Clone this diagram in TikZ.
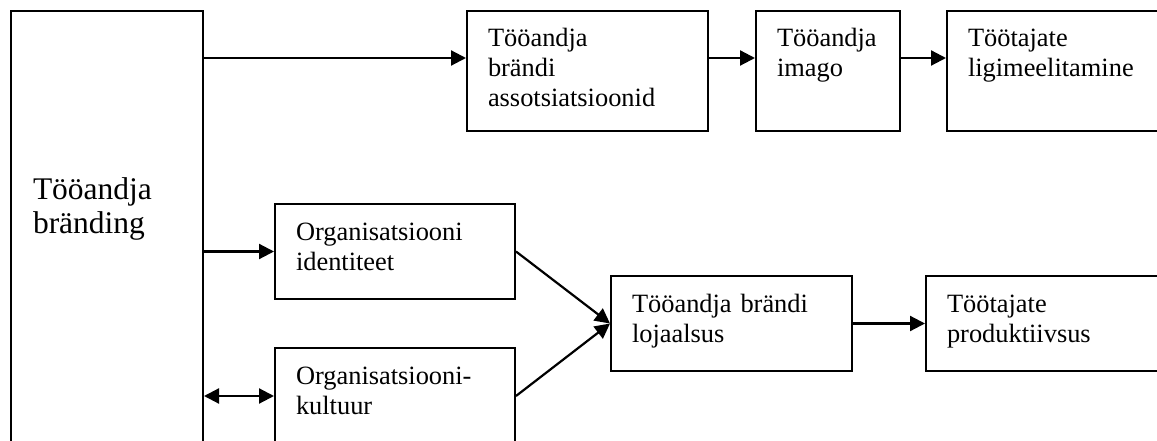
\documentclass[tikz,border=0pt]{standalone}
\usepackage{fontspec}
\setmainfont{Liberation Serif}
\usepackage{tikz}
\usetikzlibrary{arrows.meta}
\hyphenpenalty=10000
\exhyphenpenalty=10000

\begin{document}
\begin{tikzpicture}[x=1pt,y=-1pt,
        blok/.style={draw,line width=2pt,anchor=north west,align=left,
            inner xsep=21pt,inner ysep=0pt,text height=36pt,
            font=\fontsize{26.4}{30}\selectfont},
        pil/.style={line width=2.2pt,-{Triangle[length=15pt,width=15pt]}},
        kahepil/.style={line width=2.2pt,{Triangle[length=15pt,width=15pt]}-{Triangle[length=15pt,width=15pt]}}]
        \clip (0,0) rectangle (1157,441);
        % --- Left block ---
        \node[blok,inner xsep=22pt,text width=148pt,text height=188pt,text depth=272pt,
            font=\fontsize{31.5}{35}\selectfont] (brand) at (10,10) {Tööandja\\bränding};
        % --- Top row ---
        \node[blok,text width=199pt,text depth=84pt] (assoc) at (466,10) {Tööandja\\brändi\\assotsiatsioonid};
        \node[blok,text width=102pt,text depth=84pt] (imago) at (755,10) {Tööandja\\imago};
        \node[blok,text width=218pt,text depth=84pt] (ligi) at (946,10) {Töötajate\\ligimeelitamine};
        \coordinate (in1) at ([yshift=-48pt]assoc.north west);
        \draw[pil] (brand.east |- in1) -- (in1);
        \draw[pil] (assoc.east |- in1) -- (imago.west |- in1);
        \draw[pil] (imago.east |- in1) -- (ligi.west |- in1);
        % --- Organisation ---
        \node[blok,text width=198pt,text depth=59pt] (ident) at (274,203) {Organisatsiooni\\identiteet};
        \node[blok,text width=198pt,text depth=60pt] (kult) at (274,347) {Organisatsiooni-\\kultuur};
        \draw[pil] (brand.east |- ident.west) -- (ident.west);
        \draw[kahepil] (brand.east |- kult.west) -- (kult.west);
        % --- Loyalty ---
        \node[blok,text width=199pt,text depth=59pt] (loja) at (610,275) {Tööandja brändi\\lojaalsus};
        \node[blok,text width=218pt,text depth=59pt] (prod) at (925,275) {Töötajate\\produktiivsus};
        \draw[pil] (ident.east) -- (loja.west);
        \draw[pil] (kult.east) -- (loja.west);
        \draw[pil] (loja.east) -- (prod.west);
    \end{tikzpicture}
\end{document}
